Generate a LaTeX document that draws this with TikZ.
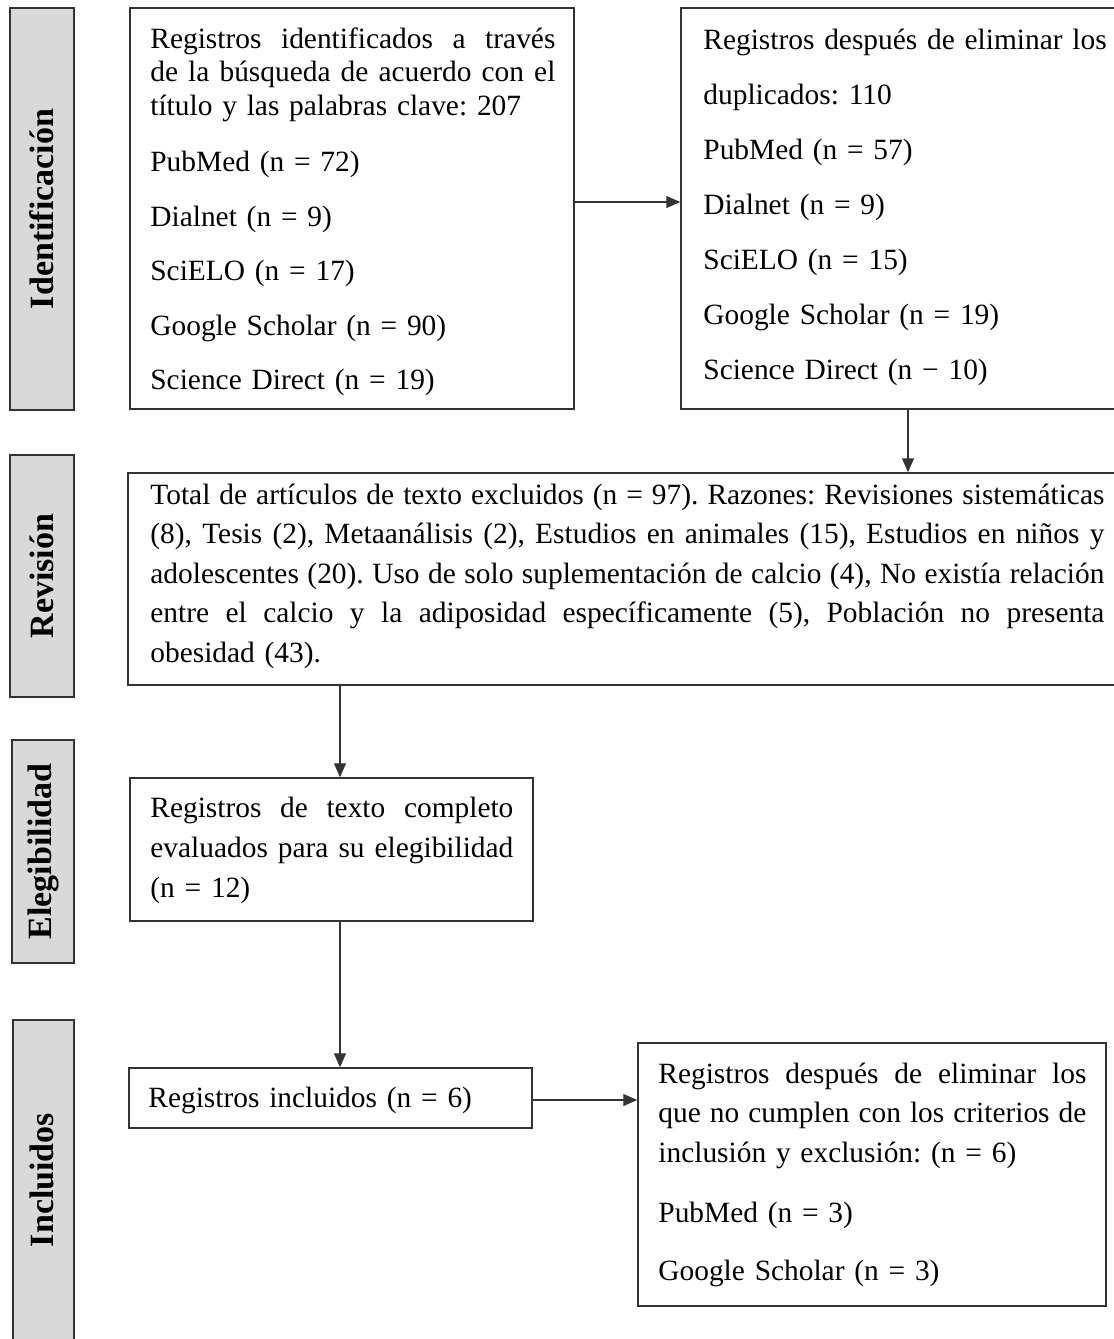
\documentclass[tikz,border=0pt]{standalone}
\usepackage{fontspec}
\setmainfont{Liberation Serif}
\usetikzlibrary{arrows.meta,fit}
\setlength\parindent{0pt}
\setlength\parskip{0pt}
\frenchspacing
\definecolor{edge}{HTML}{333333}
\definecolor{lab}{HTML}{D9D9D9}
\newcommand\jline[2]{\makebox[#1][s]{\spaceskip=.25em plus 2em minus .09em\relax #2}}
\newcommand\fstrut{\rule{0pt}{12pt}}
\tikzset{
  frame/.style={draw=edge, line width=0.75pt, inner sep=0pt},
  side/.style={draw=edge, fill=lab, line width=1pt, inner sep=0pt},
  sidetext/.style={rotate=90, font=\fontsize{17}{20}\selectfont\bfseries, text=black, inner sep=0pt},
  body/.style={anchor=north west, inner sep=0pt, text=black, text width=#1},
  arr/.style={draw=edge, line width=0.6pt, -{Triangle[length=7pt,width=6pt]}},
}
\begin{document}
\begin{tikzpicture}[x=0.5pt,y=-0.5pt]
\useasboundingbox (0,0) rectangle (1114,1339);
\clip (0,0) rectangle (1114,1339);

% side labels
\node[side, fit={(10,8) (74,410)}] (S1) {};
\node[sidetext] (S1t) at (S1.center) {Identificación};
\node[side, fit={(10,455) (74,697)}] (S2) {};
\node[sidetext] (S2t) at (S2.center) {Revisión};
\node[side, fit={(12,740) (74,963)}] (S3) {};
\node[sidetext] (S3t) at (S3.center) {Elegibilidad};
\node[side, fit={(13,1020) (74,1342)}] (S4) {};
\node[sidetext] (S4t) at (42,1180) {Incluidos};

% boxes
\node[frame, fit={(130,8) (574,409)}] (A) {};
\node[frame, fit={(681,8) (1122,409)}] (B) {};
\node[frame, fit={(128,473) (1122,685)}] (R) {};
\node[frame, fit={(130,778) (533,921)}] (E) {};
\node[frame, fit={(129,1068) (532,1128)}] (I) {};
\node[frame, fit={(638,1043) (1106,1306)}] (F) {};

% texts
\node[body=210pt, font=\fontsize{14.7}{16.75}\selectfont] (At) at (150,24) {%
\jline{202.5pt}{\fstrut Registros identificados a través}\par
\jline{202.5pt}{de la búsqueda de acuerdo con el}\par
título y las palabras clave: 207\par
\vspace{11.5pt}PubMed (n = 72)\par
\vspace{10.5pt}Dialnet (n = 9)\par
\vspace{10.5pt}SciELO (n = 17)\par
\vspace{10.5pt}Google Scholar (n = 90)\par
\vspace{10.5pt}Science Direct (n = 19)\par};

\node[body=220pt, font=\fontsize{14.7}{27.5}\selectfont] (Bt) at (703,25) {%
\fstrut Registros después de eliminar los\par
duplicados: 110\par
PubMed (n = 57)\par
Dialnet (n = 9)\par
SciELO (n = 15)\par
Google Scholar (n = 19)\par
Science Direct (n − 10)\par};

\node[body=480pt, font=\fontsize{14.7}{19.75}\selectfont] (Rt) at (150,480) {%
\jline{477pt}{\fstrut Total de artículos de texto excluidos (n = 97). Razones: Revisiones sistemáticas}\par
\jline{477pt}{(8), Tesis (2), Metaanálisis (2), Estudios en animales (15), Estudios en niños y}\par
\jline{477pt}{adolescentes (20). Uso de solo suplementación de calcio (4), No existía relación}\par
\jline{477pt}{entre el calcio y la adiposidad específicamente (5), Población no presenta}\par
obesidad (43).\par};

\node[body=190pt, font=\fontsize{14.7}{20}\selectfont] (Et) at (150,793) {%
\jline{181.5pt}{\fstrut Registros de texto completo}\par
\jline{181.5pt}{evaluados para su elegibilidad}\par
(n = 12)\par};

\node[body=200pt, font=\fontsize{14.7}{20}\selectfont] (It) at (148,1083) {%
\fstrut Registros incluidos (n = 6)\par};

\node[body=220pt, font=\fontsize{14.7}{19.75}\selectfont] (Ft) at (658,1059) {%
\jline{214pt}{\fstrut Registros después de eliminar los}\par
\jline{214pt}{que no cumplen con los criterios de}\par
inclusión y exclusión: (n = 6)\par
\vspace{10.25pt}PubMed (n = 3)\par
\vspace{9.25pt}Google Scholar (n = 3)\par};

% connectors
\coordinate (bx) at (908,0);
\coordinate (cx) at (340,0);
\coordinate (ae) at ([yshift=3.25pt]A.east);
\coordinate (ie) at ([yshift=-1pt]I.east);
\draw[arr] (ae) -- (ae -| B.west);
\draw[arr] (B.south -| bx) -- (R.north -| bx);
\draw[arr] (R.south -| cx) -- (E.north -| cx);
\draw[arr] (E.south -| cx) -- (I.north -| cx);
\draw[arr] (ie) -- (ie -| F.west);
\end{tikzpicture}
\end{document}
